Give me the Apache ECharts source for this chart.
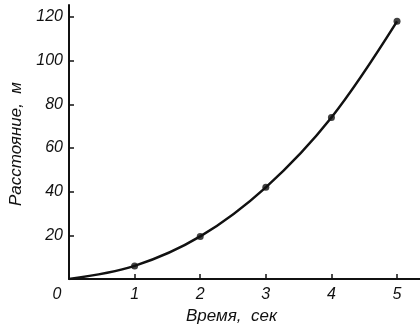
<!DOCTYPE html>
<html>
<head>
<meta charset="utf-8">
<script src="https://cdn.jsdelivr.net/npm/echarts@6/dist/echarts.min.js"></script>
<style>
  html, body { margin: 0; padding: 0; background: #fff; }
  #chart { width: 420px; height: 331px; }
</style>
</head>
<body>
<div id="chart"></div>
<script>
// time, s and measured distance, m
const times = [1, 2, 3, 4, 5];
const distances = [6, 19.5, 42, 74, 118];
// smooth curve drawn through the origin and the measured points
const curveTimes = [0, 1, 2, 3, 4, 5];
const curveDistances = [0, 6, 19.5, 42, 74, 118];
const xTicks = [0, 1, 2, 3, 4, 5];
const yTicks = [20, 40, 60, 80, 100, 120];

const chart = echarts.init(document.getElementById('chart'), null, { renderer: 'canvas' });

const font = { fontFamily: 'Liberation Sans', fontStyle: 'italic', color: '#111' };

chart.setOption({
  animation: false,
  grid: { left: 67, right: 0, top: 5, bottom: 52 },
  xAxis: {
    type: 'value',
    min: 0,
    max: 5.35,
    name: 'Время,  сек',
    nameLocation: 'middle',
    nameGap: 29,
    nameTextStyle: { ...font, fontSize: 17, padding: [0, 26, 0, 0] },
    splitLine: { show: false },
    axisLine: { lineStyle: { color: '#111', width: 2 } },
    axisTick: { inside: true, length: 5, lineStyle: { color: '#111', width: 1.5 }, customValues: xTicks },
    axisLabel: {
      ...font,
      fontSize: 16,
      margin: 8,
      customValues: xTicks,
      formatter: v => (v === 0 ? '{z|0}' : String(v)),
      rich: { z: { ...font, fontSize: 16, padding: [0, 24, 0, 0] } }
    }
  },
  yAxis: {
    type: 'value',
    min: 0,
    max: 125.5,
    name: 'Расстояние,  м',
    nameLocation: 'middle',
    nameGap: 44,
    nameTextStyle: { ...font, fontSize: 17, padding: [0, 0, 0, -4] },
    splitLine: { show: false },
    axisLine: { lineStyle: { color: '#111', width: 2 } },
    axisTick: { inside: true, length: 5, lineStyle: { color: '#111', width: 1.5 }, customValues: yTicks },
    axisLabel: { ...font, fontSize: 16, margin: 6, customValues: yTicks }
  },
  series: [
    {
      type: 'line',
      data: curveTimes.map((t, i) => [t, curveDistances[i]]),
      smooth: 0.35,
      showSymbol: false,
      lineStyle: { color: '#111', width: 2.5 }
    },
    {
      type: 'scatter',
      data: times.map((t, i) => [t, distances[i]]),
      symbolSize: 7,
      itemStyle: { color: '#111' }
    }
  ]
});

window.addEventListener('resize', () => chart.resize());
</script>
</body>
</html>
